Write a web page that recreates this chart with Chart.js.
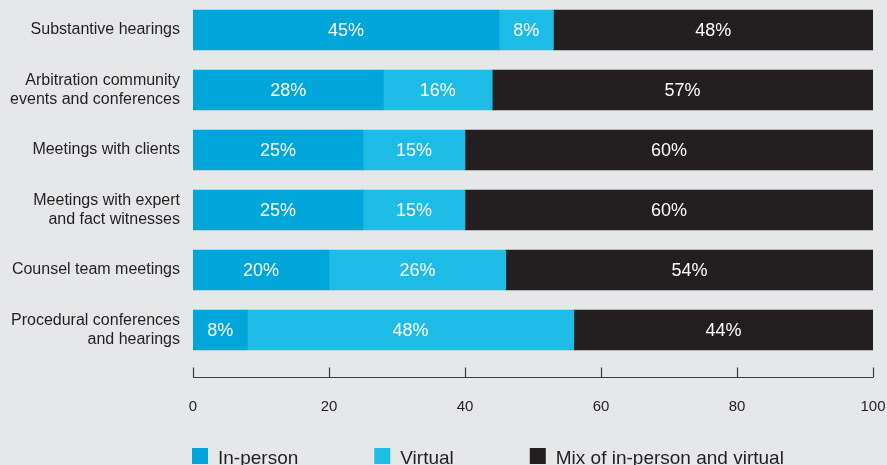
<!DOCTYPE html>
<html>
<head>
<meta charset="utf-8">
<script src="https://cdn.jsdelivr.net/npm/chart.js@4.4.1/dist/chart.umd.min.js"></script>
<style>
  html, body { margin: 0; padding: 0; background: #e6e7e8; }
  #wrap { width: 887px; height: 465px; }
</style>
</head>
<body>
<div id="wrap"><canvas id="chart" width="887" height="465"></canvas></div>
<script>
// data
var categories = [
  'Substantive hearings',
  ['Arbitration community', 'events and conferences'],
  'Meetings with clients',
  ['Meetings with expert', 'and fact witnesses'],
  'Counsel team meetings',
  ['Procedural conferences', 'and hearings']
];
var inPerson = [45, 28, 25, 25, 20, 8];
var virtual = [8, 16, 15, 15, 26, 48];
var mixed = [48, 57, 60, 60, 54, 44];
var xTicks = [0, 20, 40, 60, 80, 100];
var seriesNames = ['In-person', 'Virtual', 'Mix of in-person and virtual'];
var seriesColors = ['#00a6da', '#1cbce6', '#231f20'];

var textColor = '#231f20';
Chart.defaults.font.family = '"Liberation Sans", Arial, sans-serif';

// percentage labels inside each segment
var barLabels = {
  id: 'barLabels',
  afterDatasetsDraw: function(chart) {
    var ctx = chart.ctx;
    ctx.save();
    ctx.font = '18px "Liberation Sans", Arial, sans-serif';
    ctx.fillStyle = '#ffffff';
    ctx.textAlign = 'center';
    ctx.textBaseline = 'middle';
    chart.data.datasets.forEach(function(ds, d) {
      var meta = chart.getDatasetMeta(d);
      meta.data.forEach(function(bar, i) {
        var right = Math.min(bar.x, chart.chartArea.right);
        ctx.fillText(ds.data[i] + '%', (right + bar.base) / 2, bar.y + 1);
      });
    });
    ctx.restore();
  }
};

// axis line with upward ticks, sitting a bit below the bars
var axisLine = {
  id: 'axisLine',
  afterDraw: function(chart) {
    var ctx = chart.ctx;
    var x = chart.scales.x;
    var y = Math.round(chart.chartArea.bottom + 17) + 0.5;
    ctx.save();
    ctx.strokeStyle = '#3b3b3b';
    ctx.lineWidth = 1.2;
    ctx.beginPath();
    ctx.moveTo(x.getPixelForValue(xTicks[0]), y);
    ctx.lineTo(x.getPixelForValue(xTicks[xTicks.length - 1]), y);
    xTicks.forEach(function(v) {
      var px = Math.round(x.getPixelForValue(v)) + 0.5;
      ctx.moveTo(px, y);
      ctx.lineTo(px, y - 10);
    });
    ctx.stroke();
    ctx.restore();
  }
};

// legend row at the bottom, left-aligned with the plot
var bottomLegend = {
  id: 'bottomLegend',
  afterDraw: function(chart) {
    var ctx = chart.ctx;
    var x = chart.chartArea.left - 1;
    ctx.save();
    ctx.font = '19px "Liberation Sans", Arial, sans-serif';
    ctx.textBaseline = 'alphabetic';
    ctx.textAlign = 'left';
    chart.data.datasets.forEach(function(ds) {
      ctx.fillStyle = ds.backgroundColor;
      ctx.fillRect(x, 448, 16, 16);
      ctx.fillStyle = textColor;
      ctx.fillText(ds.label, x + 26, 464);
      x += 26 + ctx.measureText(ds.label).width + 76;
    });
    ctx.restore();
  }
};

var ctx = document.getElementById('chart').getContext('2d');
new Chart(ctx, {
  type: 'bar',
  data: {
    labels: categories,
    datasets: [
      { label: seriesNames[0], data: inPerson, backgroundColor: seriesColors[0] },
      { label: seriesNames[1], data: virtual, backgroundColor: seriesColors[1] },
      { label: seriesNames[2], data: mixed, backgroundColor: seriesColors[2] }
    ]
  },
  options: {
    indexAxis: 'y',
    responsive: false,
    animation: false,
    barThickness: 40,
    borderWidth: 0,
    borderSkipped: false,
    layout: { padding: { top: 0, right: 14, bottom: 51, left: 0 } },
    plugins: {
      legend: { display: false },
      tooltip: { enabled: false }
    },
    scales: {
      x: {
        type: 'linear',
        stacked: true,
        min: 0,
        max: 100,
        grid: { display: false, drawTicks: false },
        border: { display: false },
        ticks: {
          padding: 38,
          color: textColor,
          font: { size: 15 }
        },
        afterBuildTicks: function(s) {
          s.ticks = xTicks.map(function(v) { return { value: v }; });
        },
        afterFit: function(s) {
          s.height = 54;
          s.paddingLeft = 4;
          s.paddingRight = 12;
        }
      },
      y: {
        stacked: true,
        grid: { display: false, drawTicks: false },
        border: { display: false },
        ticks: {
          padding: 13,
          color: textColor,
          font: { size: 16, lineHeight: 1.22 }
        },
        afterFit: function(s) {
          s.width = 193;
          s.paddingTop = 0;
          s.paddingBottom = 0;
        }
      }
    }
  },
  plugins: [barLabels, axisLine, bottomLegend]
});
</script>
</body>
</html>
